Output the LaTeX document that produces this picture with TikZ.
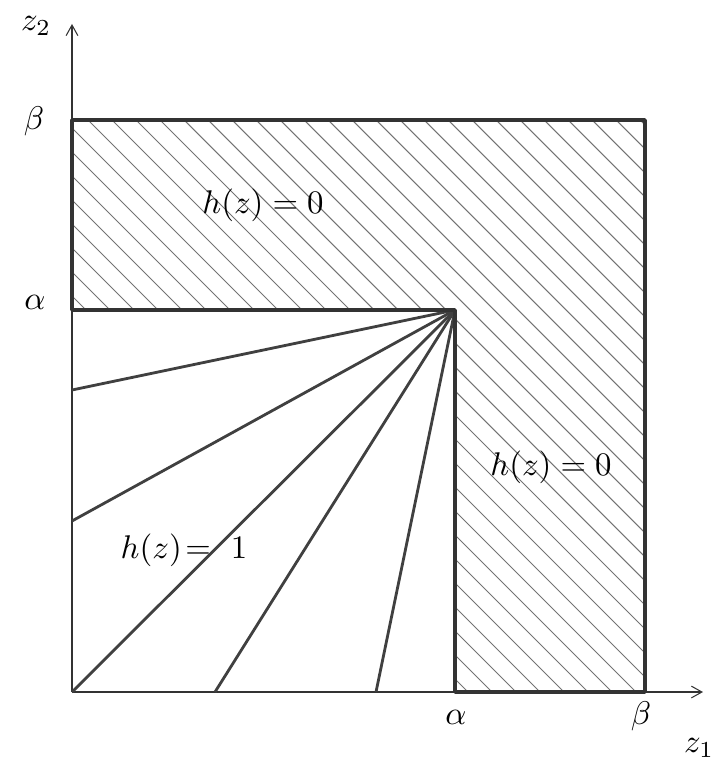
\documentclass[tikz,border=0pt]{standalone}
\usetikzlibrary{arrows.meta}
\begin{document}
\begin{tikzpicture}[x=0.03cm,y=-0.03cm,
  axis/.style={line width=0.9pt,black!80,-{Straight Barb[length=9pt,width=10pt]}},
  outline/.style={line width=3.2pt,black!80,line join=round},
  fan/.style={line width=2.4pt,black!75},
  hatch/.style={line width=0.9pt,black!55},
  lab/.style={inner sep=0pt}]
\useasboundingbox (0,0) rectangle (715,764);
% key points
\coordinate (O) at (72,692);
\coordinate (Ytop) at (72,24);
\coordinate (Xend) at (703,692);
\coordinate (TL) at (72,120);
\coordinate (TR) at (645,120);
\coordinate (BR) at (645,692);
\coordinate (BA) at (455,692);
\coordinate (C) at (455,310);
\coordinate (LA) at (72,310);
\coordinate (F1) at (72,390);
\coordinate (F2) at (72,521);
\coordinate (F3) at (72,692);
\coordinate (F4) at (215,692);
\coordinate (F5) at (376,692);
% hatching
\begin{scope}
  \clip (TL) -- (TR) -- (BR) -- (BA) -- (C) -- (LA) -- cycle;
  \foreach \c in {-800,-776,...,700} {
    \draw[hatch] (\c,0) -- (\c+800,800);
  }
\end{scope}
% axes
\draw[axis] (O) -- (Ytop);
\draw[axis] (O) -- (Xend);
% fan lines
\foreach \f in {F1,F2,F3,F4,F5} { \draw[fan] (C) -- (\f); }
% outline of hatched region
\draw[outline] (TL) -- (TR) -- (BR) -- (BA) -- (C) -- (LA) -- cycle;
% labels
\node[lab,scale=2.8] (lz2) at (36,26) {$z_2$};
\node[lab,scale=2.8] (lb1) at (34,121) {$\beta$};
\node[lab,scale=2.8] (la1) at (35,302) {$\alpha$};
\node[lab,scale=2.8] (la2) at (456,717) {$\alpha$};
\node[lab,scale=2.8] (lb2) at (641,716) {$\beta$};
\node[lab,scale=2.8] (lz1) at (699,748) {$z_1$};
\node[lab,scale=2.8] (h1) at (263,205) {$h(z)=0$};
\node[lab,scale=2.8] (h2) at (551,467) {$h(z)=0$};
\node[lab,scale=2.8] (h3) at (184,550) {$h(z)\!=\ 1$};
\end{tikzpicture}
\end{document}
